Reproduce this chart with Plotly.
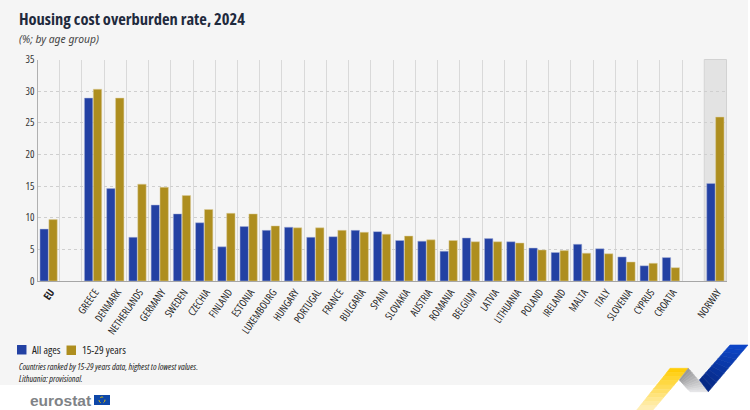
import plotly.graph_objects as go

W = 750
H = 410

countries = ['<b>EU</b>', ' ', 'GREECE', 'DENMARK', 'NETHERLANDS', 'GERMANY', 'SWEDEN', 'CZECHIA', 'FINLAND',
             'ESTONIA', 'LUXEMBOURG', 'HUNGARY', 'PORTUGAL', 'FRANCE', 'BULGARIA', 'SPAIN', 'SLOVAKIA',
             'AUSTRIA', 'ROMANIA', 'BELGIUM', 'LATVIA', 'LITHUANIA', 'POLAND', 'IRELAND', 'MALTA', 'ITALY',
             'SLOVENIA', 'CYPRUS', 'CROATIA', '  ', 'NORWAY']
all_ages = [8.2, None, 28.9, 14.6, 6.9, 12.0, 10.6, 9.2, 5.4, 8.6, 8.0, 8.5, 6.9, 7.0, 8.0, 7.8, 6.4,
            6.3, 4.7, 6.8, 6.7, 6.2, 5.2, 4.5, 5.8, 5.1, 3.8, 2.4, 3.7, None, 15.4]
youth = [9.7, None, 30.3, 28.9, 15.3, 14.8, 13.5, 11.3, 10.7, 10.6, 8.7, 8.4, 8.4, 8.0, 7.7, 7.4, 7.1,
         6.5, 6.4, 6.2, 6.2, 6.0, 4.9, 4.8, 4.4, 4.3, 3.0, 2.8, 2.1, None, 25.9]

FONT = 'Open Sans, sans-serif'
BLUE = '#2341a3'
GOLD = '#ae8e1f'


def px_path(points):
    # pixel coordinates on the page -> svg path in paper coordinates
    coords = ['%s%.4f,%.4f' % ('M' if i == 0 else 'L', x / W, 1 - y / H) for i, (x, y) in enumerate(points)]
    return ' '.join(coords) + ' Z'


def poly(points, color, layer='above', edge=0):
    return dict(type='path', xref='paper', yref='paper', path=px_path(points), fillcolor=color,
                line=dict(width=edge, color=color), layer=layer)


def mix(c0, c1, t):
    return 'rgb(%d,%d,%d)' % tuple(c0[i] + (c1[i] - c0[i]) * t for i in range(3))


def ribbon(a0, b0, a1, b1, c0, c1, n=10):
    # ribbon segment faded along its length, made of thin bands
    out = []
    for i in range(n):
        t0, t1 = i / n, (i + 1) / n
        p = [(a0[0] + (a1[0] - a0[0]) * t0, a0[1] + (a1[1] - a0[1]) * t0),
             (b0[0] + (b1[0] - b0[0]) * t0, b0[1] + (b1[1] - b0[1]) * t0),
             (b0[0] + (b1[0] - b0[0]) * t1, b0[1] + (b1[1] - b0[1]) * t1),
             (a0[0] + (a1[0] - a0[0]) * t1, a0[1] + (a1[1] - a0[1]) * t1)]
        out.append(poly(p, mix(c0, c1, (t0 + t1) / 2), edge=0.6))
    return out


def text(s, x, y, size, color='#222222', **kw):
    return dict(text=s, xref='paper', yref='paper', x=x / W, y=1 - y / H, xanchor='left', yanchor='middle',
                align='left', showarrow=False, font=dict(size=size, color=color, **kw))


shapes = [
    poly([(0, 0), (748, 0), (748, 345), (730, 345), (699, 380), (688, 368), (670, 368), (655, 385), (0, 385)],
         '#f5f5f5', layer='below'),
    dict(type='rect', xref='x', yref='paper', x0=29.5, x1=30.5, y0=1 - 281 / H, y1=1 - 59.5 / H,
         fillcolor='#e3e3e3', line=dict(width=1, color='#d2d2d2'), layer='below'),
    # legend swatches
    poly([(17, 345), (26.5, 345), (26.5, 354.5), (17, 354.5)], BLUE),
    poly([(66.5, 345.5), (76, 345.5), (76, 355), (66.5, 355)], GOLD),
]
shapes += ribbon((670, 368.3), (688.3, 368.3), (636.7, 410), (653, 410), (255, 204, 0), (255, 240, 190))
shapes += ribbon((688.3, 368.3), (679.3, 380), (708.3, 391.7), (690, 391.7), (150, 150, 152), (232, 232, 234))
shapes += ribbon((748, 345), (730, 345), (708.3, 391.7), (699.3, 380), (14, 71, 203), (6, 40, 130))
# flag of the logo
shapes.append(dict(type='rect', xref='paper', yref='paper', x0=94 / W, x1=110 / W, y0=1 - 405 / H, y1=1 - 395 / H,
                   fillcolor='#0e47a8', line=dict(width=0)))
shapes.append(dict(type='circle', xref='paper', yref='paper', x0=99 / W, x1=105 / W, y0=1 - 403 / H, y1=1 - 397 / H,
                   line=dict(color='#e6c200', width=1, dash='dot')))

fig = go.Figure()
fig.add_trace(go.Bar(x=countries, y=all_ages, name='All ages', marker=dict(color=BLUE, line=dict(color='#aab4da', width=0.5))))
fig.add_trace(go.Bar(x=countries, y=youth, name='15-29 years', marker=dict(color=GOLD, line=dict(color='#dccf9f', width=0.5))))

fig.update_layout(
    width=W,
    height=H,
    margin=dict(l=0, r=0, t=0, b=0, autoexpand=False),
    paper_bgcolor='white',
    plot_bgcolor='rgba(0,0,0,0)',
    barmode='group',
    bargap=0.2,
    bargroupgap=0.06,
    showlegend=False,
    font=dict(family=FONT, color='#333333'),
    shapes=shapes,
    annotations=[
        text('<b>Housing cost overburden rate, 2024</b>', 17, 18, 16.5, '#1f2a3d'),
        text('<i>(%; by age group)</i>', 17, 39, 10.3, '#444444', family='Noto Sans, sans-serif'),
        text('All ages', 30, 349.5, 11),
        text('15-29 years', 79.5, 349.5, 11),
        text('<i>Countries ranked by 15-29 years data, highest to lowest values.<br>Lithuania: provisional.</i>',
             17, 372, 9),
        text('<b>eurostat</b>', 28, 400, 15.5, '#7f8387', family='Liberation Sans, sans-serif'),
    ],
    xaxis=dict(
        domain=[37.5 / W, 727 / W],
        type='category',
        categoryorder='array',
        categoryarray=countries,
        tickson='boundaries',
        tickangle=-55,
        ticklabelshift=2,
        ticks='',
        tickfont=dict(size=10.5, color='#222222'),
        showgrid=True,
        gridcolor='#d9d9d9',
        gridwidth=1,
        showline=True,
        linecolor='#a6a6a6',
        linewidth=1,
    ),
    yaxis=dict(
        domain=[1 - 281 / H, 1 - 59.5 / H],
        range=[0, 35],
        dtick=5,
        ticks='',
        tickfont=dict(size=10.5, color='#333333'),
        showgrid=True,
        gridcolor='#cfcfcf',
        gridwidth=1,
        griddash='dot',
        zeroline=False,
        showline=True,
        linecolor='#b0b0b0',
        linewidth=1,
    ),
)

# open sans has a width axis, the original uses a condensed face; redraw so plotly measures the narrow text
post = """
document.body.style.margin='0';
var st = document.createElement('style');
st.textContent = 'svg text { font-stretch: 75%; }';
document.head.appendChild(st);
Plotly.redraw(document.getElementById('{plot_id}'));
"""
fig.write_html("out.html", post_script=post, config={'displayModeBar': False})
